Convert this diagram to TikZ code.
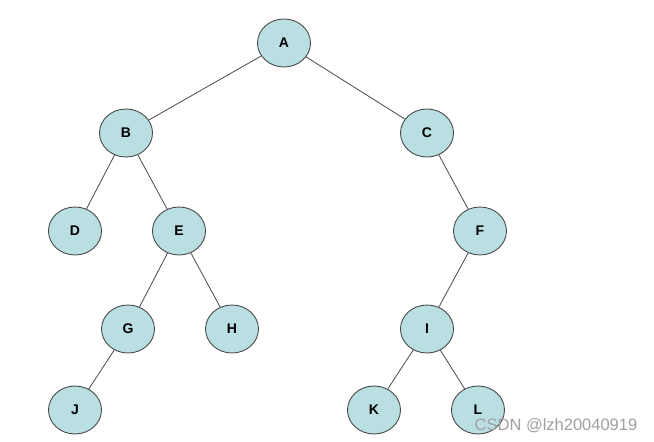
\documentclass[tikz,border=0pt]{standalone}
\usepackage{fontspec}
\setmainfont{Liberation Sans}
\usetikzlibrary{shapes.geometric}
\definecolor{nodefill}{HTML}{BADFE3}
\definecolor{nodeline}{HTML}{4A4A4A}
\definecolor{edgeline}{HTML}{4A4A4A}
\definecolor{wmark}{HTML}{A0A0A0}
\begin{document}
\begin{tikzpicture}[x=1pt,y=-1pt,
  tnode/.style={ellipse,draw=nodeline,line width=0.9pt,fill=nodefill,minimum width=53pt,minimum height=48pt,inner sep=0pt,font=\fontsize{14}{14}\selectfont\bfseries},
  tedge/.style={draw=edgeline,line width=0.8pt}]
\useasboundingbox[fill=white] (0,0) rectangle (654,442);
\node[tnode] (A) at (284,43) {A};
\node[tnode] (B) at (126,133) {B};
\node[tnode] (C) at (427,133) {C};
\node[tnode] (D) at (75,231) {D};
\node[tnode] (E) at (179,231) {E};
\node[tnode] (F) at (480,231) {F};
\node[tnode] (G) at (128,329) {G};
\node[tnode] (H) at (232,329) {H};
\node[tnode] (I) at (427,329) {I};
\node[tnode] (J) at (75,410) {J};
\node[tnode] (K) at (374,410) {K};
\node[tnode] (L) at (478,410) {L};
\draw[tedge] (A) -- (B);
\draw[tedge] (A) -- (C);
\draw[tedge] (B) -- (D);
\draw[tedge] (B) -- (E);
\draw[tedge] (C) -- (F);
\draw[tedge] (E) -- (G);
\draw[tedge] (E) -- (H);
\draw[tedge] (F) -- (I);
\draw[tedge] (G) -- (J);
\draw[tedge] (I) -- (K);
\draw[tedge] (I) -- (L);
\node[text=wmark,font=\fontsize{16.5}{16.5}\selectfont,inner sep=0pt] (wm) at (556,426) {CSDN @lzh20040919};
\end{tikzpicture}
\end{document}
